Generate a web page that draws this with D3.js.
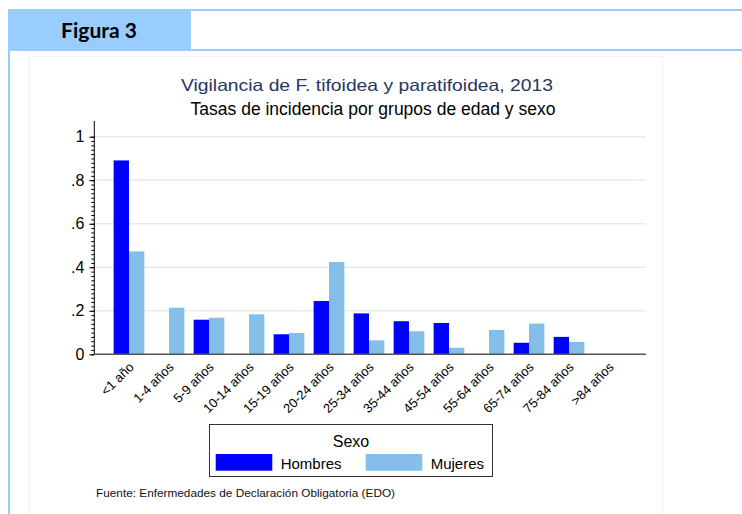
<!DOCTYPE html>
<html>
<head>
<meta charset="utf-8">
<script src="https://cdn.jsdelivr.net/npm/d3@7"></script>
<style>
  body { margin: 0; background: #fff; }
  svg { display: block; font-family: "Liberation Sans", Arial, sans-serif; }
</style>
</head>
<body>
<div id="wrapper"></div>
<script>
const grupos = ["<1 año", "1-4 años", "5-9 años", "10-14 años", "15-19 años", "20-24 años",
    "25-34 años", "35-44 años", "45-54 años", "55-64 años", "65-74 años", "75-84 años", ">84 años"]
const hombres = [0.891, null, 0.159, null, 0.092, 0.245, 0.188, 0.152, 0.144, null, 0.053, 0.080, null]
const mujeres = [0.473, 0.214, 0.168, 0.184, 0.098, 0.424, 0.064, 0.106, 0.030, 0.112, 0.141, 0.057, null]
const sexos = ["Hombres", "Mujeres"]
const colores = ["#0000ff", "#85bfe9"]
const yTicks = [0, 0.2, 0.4, 0.6, 0.8, 1]
const yTickLabels = ["0", ".2", ".4", ".6", ".8", "1"]

const width = 742
const height = 514

const svg = d3.select("#wrapper")
    .append("svg")
    .attr("width", width)
    .attr("height", height)

// page frame
const frameBlue = "#99ccff"
svg.append("rect").attr("x", 8).attr("y", 9).attr("width", 183).attr("height", 42).attr("fill", frameBlue)
svg.append("rect").attr("x", 191).attr("y", 9).attr("width", width - 191).attr("height", 2).attr("fill", frameBlue)
svg.append("rect").attr("x", 8).attr("y", 49).attr("width", width - 8).attr("height", 2).attr("fill", frameBlue)
svg.append("rect").attr("x", 8).attr("y", 9).attr("width", 2).attr("height", height).attr("fill", frameBlue)
svg.append("text")
    .attr("x", 99).attr("y", 38)
    .attr("text-anchor", "middle")
    .style("font-family", "Lato, sans-serif")
    .style("font-weight", "bold")
    .style("font-size", "21px")
    .text("Figura 3")

// faint graph region
svg.append("rect")
    .attr("x", 29.5).attr("y", 56.5).attr("width", 633).attr("height", 470)
    .attr("fill", "none").attr("stroke", "#eef2f2")

// titles
svg.append("text")
    .attr("x", 367).attr("y", 91)
    .attr("text-anchor", "middle")
    .attr("fill", "#27365f")
    .style("font-size", "16.5px")
    .attr("textLength", 372)
    .attr("lengthAdjust", "spacingAndGlyphs")
    .text("Vigilancia de F. tifoidea y paratifoidea, 2013")
svg.append("text")
    .attr("x", 373).attr("y", 115)
    .attr("text-anchor", "middle")
    .attr("fill", "#000")
    .style("font-size", "17.5px")
    .text("Tasas de incidencia por grupos de edad y sexo")

// plot
const plot = { left: 94.3, right: 646, top: 121, bottom: 354.3 }

const xScale = d3.scaleBand()
    .domain(grupos)
    .range([93, 645])
    .paddingInner(0.2325)
    .paddingOuter(0.516)

const xSub = d3.scaleBand()
    .domain(sexos)
    .range([0, xScale.bandwidth()])

const yScale = d3.scaleLinear()
    .domain([0, 1])
    .range([plot.bottom, 136.7])

const colorScale = d3.scaleOrdinal().domain(sexos).range(colores)

// gridlines
svg.append("g")
    .selectAll("line")
    .data(yTicks.filter(d => d > 0))
    .join("line")
    .attr("x1", plot.left).attr("x2", plot.right)
    .attr("y1", d => yScale(d)).attr("y2", d => yScale(d))
    .attr("stroke", "#e4eded")
    .attr("stroke-width", 1.5)

// bars
const rows = grupos.map((g, i) => ({ grupo: g, Hombres: hombres[i], Mujeres: mujeres[i] }))
svg.append("g")
    .selectAll("g")
    .data(rows)
    .join("g")
    .attr("transform", d => `translate(${xScale(d.grupo)},0)`)
    .selectAll("rect")
    .data(d => sexos.map(s => ({ sexo: s, value: d[s] })).filter(d => d.value != null))
    .join("rect")
    .attr("x", d => xSub(d.sexo))
    .attr("width", xSub.bandwidth())
    .attr("y", d => yScale(d.value))
    .attr("height", d => yScale(0) - yScale(d.value))
    .attr("fill", d => colorScale(d.sexo))

// y axis, minor ticks every .02
const yAxisG = svg.append("g")
    .attr("transform", `translate(${plot.left},0)`)
    .call(d3.axisLeft(yScale)
        .tickValues(d3.range(0, 1.0001, 0.02))
        .tickSize(3)
        .tickFormat(""))
yAxisG.select(".domain").remove()
yAxisG.selectAll(".tick line").attr("stroke", "#000")

const yMajor = svg.append("g")
    .attr("transform", `translate(${plot.left},0)`)
    .call(d3.axisLeft(yScale)
        .tickValues(yTicks)
        .tickSize(5)
        .tickPadding(5)
        .tickFormat((d, i) => yTickLabels[i]))
yMajor.select(".domain").remove()
yMajor.selectAll(".tick line").attr("stroke", "#000")
yMajor.selectAll(".tick text")
    .attr("fill", "#000")
    .style("font-size", "16px")
    .style("font-family", "'Liberation Sans', Arial, sans-serif")

svg.append("line")
    .attr("x1", plot.left).attr("x2", plot.left)
    .attr("y1", plot.top).attr("y2", plot.bottom)
    .attr("stroke", "#000")

// x axis
const xAxisG = svg.append("g")
    .attr("transform", `translate(0,${plot.bottom})`)
    .call(d3.axisBottom(xScale).tickSize(0).tickPadding(0))
xAxisG.select(".domain").remove()
xAxisG.selectAll(".tick text")
    .attr("text-anchor", "end")
    .attr("transform", "translate(0,8) rotate(-45)")
    .attr("dy", "0.6em")
    .attr("fill", "#000")
    .style("font-size", "13px")
    .style("font-family", "'Liberation Sans', Arial, sans-serif")

svg.append("line")
    .attr("x1", plot.left).attr("x2", plot.right)
    .attr("y1", plot.bottom).attr("y2", plot.bottom)
    .attr("stroke", "#555")
    .attr("stroke-width", 1.5)

// legend
const legend = svg.append("g")
legend.append("rect")
    .attr("x", 209.5).attr("y", 424.5).attr("width", 283).attr("height", 52)
    .attr("fill", "#fff").attr("stroke", "#333")
legend.append("text")
    .attr("x", 351).attr("y", 447)
    .attr("text-anchor", "middle")
    .style("font-size", "16px")
    .text("Sexo")
const legendX = [215.7, 365.7]
sexos.forEach((s, i) => {
    legend.append("rect")
        .attr("x", legendX[i]).attr("y", 454)
        .attr("width", 56.6).attr("height", 16.7)
        .attr("fill", colorScale(s))
    legend.append("text")
        .attr("x", legendX[i] + 65).attr("y", 468.5)
        .style("font-size", "15px")
        .text(s)
})

// source
svg.append("text")
    .attr("x", 96).attr("y", 497)
    .attr("fill", "#111")
    .style("font-size", "11.8px")
    .text("Fuente: Enfermedades de Declaración Obligatoria (EDO)")
</script>
</body>
</html>
